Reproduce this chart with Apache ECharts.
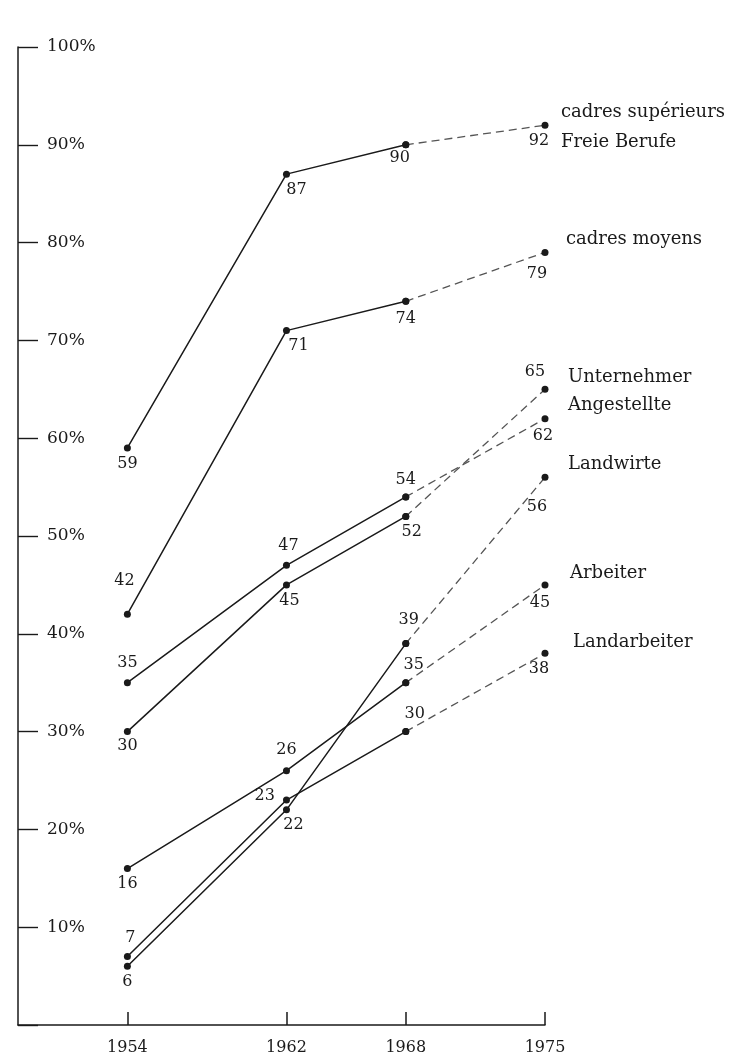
<!DOCTYPE html>
<html>
<head>
<meta charset="utf-8">
<script src="https://cdn.jsdelivr.net/npm/echarts@6/dist/echarts.min.js"></script>
<style>
html,body{margin:0;padding:0;background:#fff;}
#chart{width:733px;height:1058px;}
</style>
</head>
<body>
<div id="chart"></div>
<script>
// ---- data ----
const years = [1954, 1962, 1968, 1975];
const cadresSuperieurs = [59, 87, 90, 92];
const cadresMoyens = [42, 71, 74, 79];
const angestellte = [35, 47, 54, 62];
const unternehmer = [30, 45, 52, 65];
const arbeiter = [16, 26, 35, 45];
const landarbeiter = [7, 23, 30, 38];
const landwirte = [6, 22, 39, 56];
const yTickValues = [10, 20, 30, 40, 50, 60, 70, 80, 90, 100];
const groupLabels = ['cadres supérieurs', 'Freie Berufe', 'cadres moyens', 'Unternehmer', 'Angestellte', 'Landwirte', 'Arbeiter', 'Landarbeiter'];

// ---- label placement (style only) ----
const groups = [
  {name: 'cadres supérieurs / Freie Berufe', values: cadresSuperieurs,
   lab: [['bottom',0,0],['bottom',10,0],['bottom',-6,-2],['bottom',-6,0]]},
  {name: 'cadres moyens', values: cadresMoyens,
   lab: [['top',-3,-18],['bottom',12,0],['bottom',0,2],['bottom',-8,6]]},
  {name: 'Angestellte', values: angestellte,
   lab: [['top',0,-4],['top',2,-4],['top',0,-2],['bottom',-2,2]]},
  {name: 'Unternehmer', values: unternehmer,
   lab: [['bottom',0,-1],['bottom',3,0],['bottom',6,0],['top',-10,-2]]},
  {name: 'Arbeiter', values: arbeiter,
   lab: [['bottom',0,0],['top',0,-5],['top',8,-2],['bottom',-5,2]]},
  {name: 'Landarbeiter', values: landarbeiter,
   lab: [['top',3,-3],['left',-4,-4],['top',9,-2],['bottom',-6,0]]},
  {name: 'Landwirte', values: landwirte,
   lab: [['bottom',0,0],['bottom',7,0],['top',3,-8],['bottom',-8,14]]}
];

const FONT = 'DejaVu Serif';
const INK = '#1a1a1a';

function pt(year, v, lab, show) {
  return {
    value: [year, v],
    label: show ? {show: true, position: lab[0], offset: [lab[1], lab[2]]} : {show: false}
  };
}

const series = [];
groups.forEach(g => {
  const solidData = [0, 1, 2].map(i => pt(years[i], g.values[i], g.lab[i], true));
  const dashData = [pt(years[2], g.values[2], g.lab[2], false), pt(years[3], g.values[3], g.lab[3], true)];
  const labelStyle = {fontFamily: FONT, fontSize: 16, color: INK, distance: 4};
  series.push({
    name: g.name, type: 'line', data: solidData,
    symbol: 'circle', symbolSize: 7,
    itemStyle: {color: INK},
    lineStyle: {color: INK, width: 1.5},
    label: labelStyle, animation: false, z: 3
  });
  series.push({
    name: g.name + ' (dashed)', type: 'line', data: dashData,
    symbol: 'circle', symbolSize: 7,
    itemStyle: {color: INK},
    lineStyle: {color: '#555', width: 1.3, type: [8, 5]},
    label: labelStyle, animation: false, z: 2
  });
});

const labelY = [112, 142, 239, 377, 405, 464, 573, 642];
const labelX = [561, 561, 566, 568, 568, 568, 570, 573];
const graphics = groupLabels.map((t, i) => ({
  type: 'text', x: labelX[i], y: labelY[i],
  style: {text: t, font: '18px "' + FONT + '"', fill: INK, verticalAlign: 'middle', align: 'left'}
}));

const chart = echarts.init(document.getElementById('chart'));
chart.setOption({
  backgroundColor: '#fff',
  animation: false,
  grid: {left: 18, right: 188, top: 47, bottom: 33},
  xAxis: {
    type: 'value', min: 1948.5, max: 1975,
    axisLine: {show: true, lineStyle: {color: INK, width: 1.5}},
    axisTick: {show: true, inside: true, length: 13, customValues: years, lineStyle: {color: INK, width: 1.5}},
    axisLabel: {customValues: years, margin: 15, fontFamily: FONT, fontSize: 16, color: INK, formatter: v => String(v)},
    splitLine: {show: false}
  },
  yAxis: {
    type: 'value', min: 0, max: 100, interval: 10,
    axisLine: {show: true, lineStyle: {color: INK, width: 1.5}},
    axisTick: {show: true, inside: true, length: 20, lineStyle: {color: INK, width: 1.4}},
    axisLabel: {
      show: true, inside: true, margin: 29, fontFamily: FONT, fontSize: 17, color: INK,
      padding: [0, 0, 8, 0],
      formatter: v => (yTickValues.indexOf(v) >= 0 ? v + '%' : '')
    },
    splitLine: {show: false}
  },
  graphic: graphics,
  series: series
});
</script>
</body>
</html>
